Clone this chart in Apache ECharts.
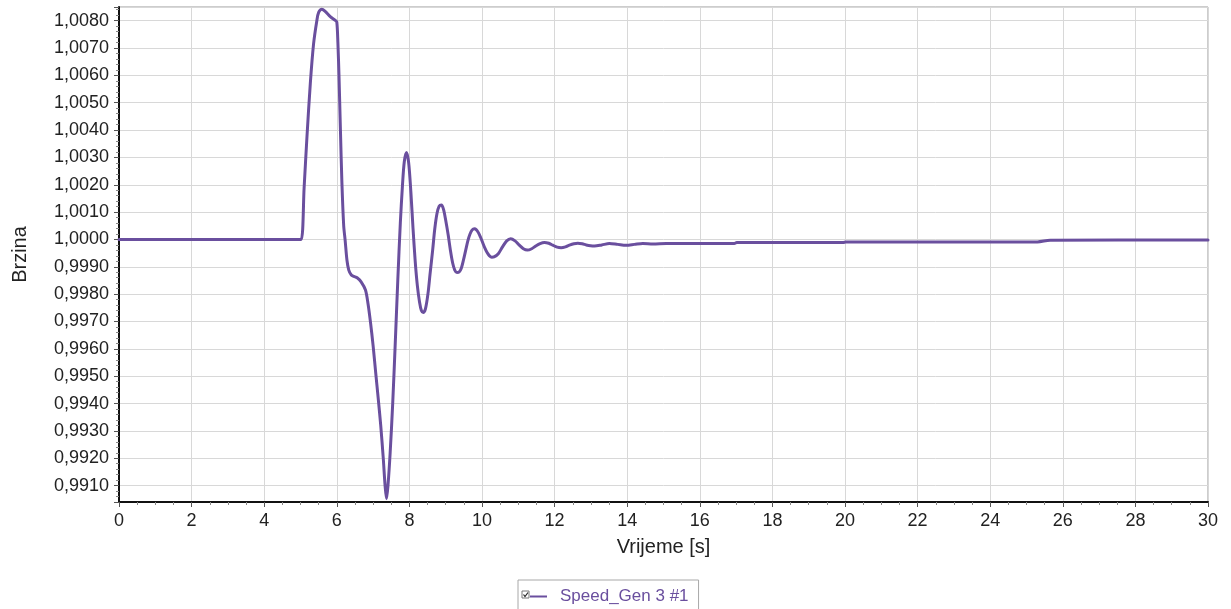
<!DOCTYPE html>
<html>
<head>
<meta charset="utf-8">
<script src="https://cdn.jsdelivr.net/npm/echarts@6/dist/echarts.min.js"></script>
<style>
  html, body { margin: 0; padding: 0; background: #fff; }
  #chart { width: 1231px; height: 609px; }
</style>
</head>
<body>
<div id="chart"></div>
<script>
// time [s]
var time = [
  0, 4.90, 5.02, 5.10, 5.18, 5.27, 5.36, 5.45, 5.50, 5.59, 5.68, 5.82, 5.96, 6.00,
  6.03, 6.06, 6.10, 6.14, 6.19, 6.23, 6.28, 6.33, 6.40, 6.47, 6.56, 6.67, 6.79,
  6.86, 6.93, 7.00, 7.07, 7.14, 7.21, 7.28, 7.33, 7.37, 7.41, 7.47, 7.54, 7.61,
  7.68, 7.75, 7.81, 7.86, 7.92, 7.98, 8.04, 8.10, 8.16, 8.22, 8.28, 8.33, 8.38,
  8.44, 8.51, 8.57, 8.64, 8.70, 8.76, 8.82, 8.88,
  8.94, 9.00, 9.07, 9.13, 9.19, 9.25, 9.31, 9.37, 9.43, 9.49, 9.55, 9.61, 9.67,
  9.73, 9.79, 9.84, 9.90, 9.96, 10.02, 10.08, 10.14, 10.20, 10.27, 10.33,
  10.45, 10.56, 10.68, 10.79, 10.91, 11.02, 11.14, 11.25, 11.37, 11.48, 11.60,
  11.72, 11.84, 11.95, 12.07, 12.18, 12.30, 12.41, 12.53, 12.64, 12.76, 12.87,
  12.99, 13.10, 13.30, 13.51, 13.74, 13.97, 14.20, 14.43, 14.71, 15.08,
  16.95, 17.02, 19.95, 20.02, 25.30, 25.65, 30
];
// generator speed (p.u.)
var speed = [
  1.0, 1.0, 1.0, 1.0019, 1.0038, 1.0057, 1.00715, 1.00800, 1.00830, 1.00842, 1.00834, 1.00815, 1.00801, 1.00795,
  1.0072, 1.0060, 1.0040, 1.0021, 1.0005, 0.99997, 0.99924, 0.99888, 0.99870, 0.99865, 0.99860, 0.99845, 0.99815,
  0.99765, 0.99695, 0.99612, 0.99515, 0.99420, 0.99320, 0.99200, 0.99100, 0.99052, 0.99100, 0.99220, 0.99400, 0.99620,
  0.99850, 1.00060, 1.00200, 1.00285, 1.00318, 1.00280, 1.00175, 1.00040, 0.99920, 0.99830, 0.99770, 0.99740, 0.99733,
  0.99745, 0.99800, 0.99875, 0.99960, 1.00040, 1.00095, 1.00122, 1.00126,
  1.00110, 1.00070, 1.00015, 0.99960, 0.99915, 0.99888, 0.99879, 0.99881, 0.99895, 0.99925, 0.99960, 0.99995, 1.00020,
  1.00035, 1.00039, 1.00036, 1.00025, 1.00008, 0.99988, 0.99968, 0.99952, 0.99941, 0.99935, 0.99936,
  0.99948, 0.99972, 0.99995, 1.00003, 0.99995, 0.99980, 0.99966, 0.99961, 0.99966, 0.99976, 0.99985,
  0.99989, 0.99986, 0.99979, 0.99972, 0.99970, 0.99973, 0.99979, 0.99984, 0.99986, 0.99984, 0.99980,
  0.99977, 0.99976, 0.99980, 0.99985, 0.99982, 0.99979, 0.99982, 0.99985, 0.99983, 0.99985,
  0.99985, 0.99989, 0.99989, 0.99991, 0.99991, 0.99997, 0.99998
];
var seriesName = 'Speed_Gen 3 #1';
var lineColor = '#6a4f9e';

var points = time.map(function(t, i) { return [t, speed[i]]; });

var chart = echarts.init(document.getElementById('chart'));
var option = {
  animation: false,
  backgroundColor: '#fff',
  textStyle: { fontFamily: 'Liberation Sans, Arial, sans-serif' },
  grid: {
    left: 119, right: 23, top: 7, bottom: 107,
    outerBoundsMode: 'none', containLabel: false,
    show: true, borderColor: '#9a9a9a', borderWidth: 1
  },
  legend: {
    data: [seriesName],
    left: 518, top: 580,
    icon: 'rect', itemWidth: 17, itemHeight: 2,
    padding: [8, 10, 8, 12],
    borderColor: '#a8a8a8', borderWidth: 1,
    selectedMode: false,
    textStyle: { color: lineColor, fontSize: 17, padding: [0, 0, 0, 8], fontFamily: 'Liberation Sans, Arial, sans-serif' }
  },
  graphic: [{
    type: 'group', left: 521, top: 590,
    children: [
      { type: 'rect', shape: { x: 0, y: 0, width: 7, height: 7 }, style: { fill: '#fff', stroke: '#777', lineWidth: 1 } },
      { type: 'polyline', shape: { points: [[1.5, 3.5], [3, 5.5], [6, 1.5]] }, style: { stroke: '#222', lineWidth: 1.2, fill: null } }
    ]
  }],
  xAxis: {
    type: 'value', min: 0, max: 30, interval: 2,
    name: 'Vrijeme [s]', nameLocation: 'middle', nameGap: 35,
    nameTextStyle: { fontSize: 20, color: '#222' },
    axisLine: { onZero: false, lineStyle: { color: '#111', width: 2 } },
    axisTick: { inside: false, length: 5, lineStyle: { color: '#555' } },
    minorTick: { show: true, splitNumber: 4, length: 3, lineStyle: { color: '#888' } },
    axisLabel: { fontSize: 18, color: '#222', margin: 10 },
    splitLine: { lineStyle: { color: '#d8d8d8', width: 1 } }
  },
  yAxis: {
    type: 'value', min: 0.9904, max: 1.0085,
    minInterval: 0.001, maxInterval: 0.001, splitNumber: 18,
    name: 'Brzina', nameLocation: 'middle', nameGap: 89,
    nameTextStyle: { fontSize: 20, color: '#222' },
    axisLine: { show: true, onZero: false, lineStyle: { color: '#111', width: 2 } },
    axisTick: { show: true, length: 5, lineStyle: { color: '#555' } },
    minorTick: { show: true, splitNumber: 5, length: 3, lineStyle: { color: '#888' } },
    axisLabel: {
      fontSize: 18, color: '#222', margin: 10,
      showMinLabel: false, showMaxLabel: false,
      formatter: function(v) {
        var k = Math.round(v * 1000);
        if (Math.abs(v * 1000 - k) > 1e-6) return '';
        return v.toFixed(4).replace('.', ',');
      }
    },
    splitLine: { lineStyle: { color: '#d8d8d8', width: 1 } }
  },
  series: [{
    name: seriesName,
    type: 'line',
    data: points,
    showSymbol: false,
    symbol: 'none',
    smooth: 0.3,
    lineStyle: { color: lineColor, width: 3, join: 'round', cap: 'round' },
    itemStyle: { color: lineColor }
  }]
};
chart.setOption(option);
</script>
</body>
</html>
